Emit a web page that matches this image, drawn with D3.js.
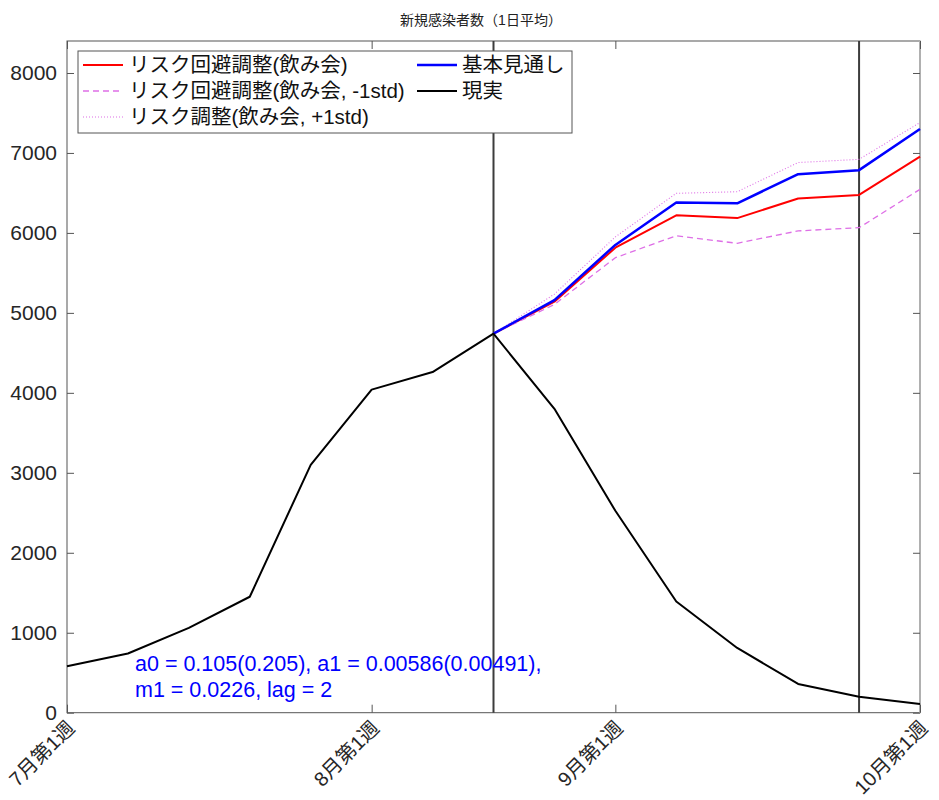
<!DOCTYPE html>
<html>
<head>
<meta charset="utf-8">
<script src="https://cdn.jsdelivr.net/npm/d3@7"></script>
<style>
  body { margin: 0; background: #fff; }
  svg { display: block; font-family: "Liberation Sans", Arial, "Noto Sans CJK JP", sans-serif; }
</style>
</head>
<body>
<svg id="chart" width="939" height="800"></svg>
<script>
// week index 0 = 7月第1週
var weeks = [0, 1, 2, 3, 4, 5, 6, 7, 8, 9, 10, 11, 12, 13, 14];
var actual = [580, 740, 1060, 1450, 3100, 4040, 4260, 4740, 3800, 2525, 1390, 810, 360, 200, 110];

var fcWeeks = [7, 8, 9, 10, 11, 12, 13, 14];
var baseline = [4740, 5160, 5850, 6380, 6370, 6735, 6785, 7300];
var riskAdj = [4740, 5140, 5815, 6220, 6185, 6430, 6475, 6955];
var riskLo = [4740, 5105, 5690, 5965, 5870, 6025, 6065, 6545];
var riskHi = [4740, 5235, 5950, 6495, 6515, 6880, 6920, 7380];

var xTickPos = [0, 5, 9, 14];
var xTickLabels = ["7月第1週", "8月第1週", "9月第1週", "10月第1週"];
var yTicks = [0, 1000, 2000, 3000, 4000, 5000, 6000, 7000, 8000];
var markerWeeks = [7, 13];

var title = "新規感染者数（1日平均）";
var note = ["a0 = 0.105(0.205), a1 = 0.00586(0.00491),", "m1 = 0.0226, lag = 2"];

var plotL = 67, plotR = 920, plotT = 41, plotB = 712.7;

var svg = d3.select("#chart");

var x = d3.scaleLinear().domain([0, 14]).range([plotL, plotR]);
var y = d3.scaleLinear().domain([0, 8400]).range([plotB, plotT]);

// title
svg.append("text")
    .attr("x", 481)
    .attr("y", 25)
    .attr("text-anchor", "middle")
    .style("font-size", "14px")
    .style("fill", "#222")
    .text(title);

// frame
svg.append("rect")
    .attr("x", plotL).attr("y", plotT)
    .attr("width", plotR - plotL).attr("height", plotB - plotT)
    .attr("fill", "none").attr("stroke", "#555").attr("stroke-width", 1);
svg.append("line")
    .attr("x1", plotR).attr("x2", plotR).attr("y1", plotT).attr("y2", plotB)
    .attr("stroke", "#b0b0b0").attr("stroke-width", 2);

// axes (ticks inward)
var yAxis = d3.axisLeft(y).tickValues(yTicks).tickSize(-7).tickPadding(10).tickFormat(d3.format("d"));
var gy = svg.append("g").attr("transform", "translate(" + plotL + ",0)").call(yAxis);
gy.select(".domain").remove();
gy.selectAll("line").attr("stroke", "#555");
gy.selectAll("text").style("font-size", "21px").style("fill", "#262626");

var yAxisR = d3.axisRight(y).tickValues(yTicks).tickSize(-7).tickFormat("");
var gyr = svg.append("g").attr("transform", "translate(" + plotR + ",0)").call(yAxisR);
gyr.select(".domain").remove();
gyr.selectAll("line").attr("stroke", "#555");

var xAxisTop = d3.axisTop(x).tickValues(xTickPos).tickSize(-8).tickFormat("");
var gxt = svg.append("g").attr("transform", "translate(0," + plotT + ")").call(xAxisTop);
gxt.select(".domain").remove();
gxt.selectAll("line").attr("stroke", "#555");

var xAxis = d3.axisBottom(x).tickValues(xTickPos).tickSize(-8).tickFormat("");
var gx = svg.append("g").attr("transform", "translate(0," + plotB + ")").call(xAxis);
gx.select(".domain").remove();
gx.selectAll("line").attr("stroke", "#555");

svg.selectAll(".xlab")
    .data(xTickPos)
    .enter().append("text")
    .attr("class", "xlab")
    .attr("transform", function (d) { return "translate(" + x(d) + "," + (plotB + 8) + ") rotate(-45)"; })
    .attr("text-anchor", "end")
    .attr("dy", "0.62em")
    .style("font-size", "20px")
    .style("fill", "#262626")
    .text(function (d, i) { return xTickLabels[i]; });

// vertical marker lines
svg.selectAll(".vline")
    .data(markerWeeks)
    .enter().append("line")
    .attr("x1", function (d) { return x(d); })
    .attr("x2", function (d) { return x(d); })
    .attr("y1", plotT).attr("y2", plotB)
    .attr("stroke", "#3c3c3c").attr("stroke-width", 2);

var line = d3.line()
    .x(function (d) { return x(d[0]); })
    .y(function (d) { return y(d[1]); });

function pairs(xs, ys) {
    return xs.map(function (w, i) { return [w, ys[i]]; });
}

var series = [
    { name: "リスク回避調整(飲み会)", xs: fcWeeks, ys: riskAdj, color: "#ff0000", width: 2, dash: null },
    { name: "リスク回避調整(飲み会, -1std)", xs: fcWeeks, ys: riskLo, color: "#de6fe6", width: 1.3, dash: "6,4" },
    { name: "リスク調整(飲み会, +1std)", xs: fcWeeks, ys: riskHi, color: "#de6fe6", width: 1.1, dash: "1,2" },
    { name: "基本見通し", xs: fcWeeks, ys: baseline, color: "#0000ff", width: 2.5, dash: null },
    { name: "現実", xs: weeks, ys: actual, color: "#000000", width: 2, dash: null }
];

series.forEach(function (s) {
    svg.append("path")
        .datum(pairs(s.xs, s.ys))
        .attr("d", line)
        .attr("fill", "none")
        .attr("stroke", s.color)
        .attr("stroke-width", s.width)
        .attr("stroke-dasharray", s.dash)
        .attr("stroke-linejoin", "round");
});

// annotation
svg.append("text")
    .attr("x", 135).attr("y", 671)
    .style("font-size", "21.5px").style("fill", "#0000ff")
    .text(note[0]);
svg.append("text")
    .attr("x", 135).attr("y", 697)
    .style("font-size", "21.5px").style("fill", "#0000ff")
    .text(note[1]);

// legend
svg.append("rect")
    .attr("x", 78).attr("y", 51)
    .attr("width", 494).attr("height", 82)
    .attr("fill", "#fff").attr("stroke", "#555").attr("stroke-width", 1);

var legPos = [[83, 65], [83, 91], [83, 117], [417, 65], [417, 91]];
series.forEach(function (s, i) {
    var p = legPos[i];
    svg.append("line")
        .attr("x1", p[0]).attr("x2", p[0] + 40)
        .attr("y1", p[1]).attr("y2", p[1])
        .attr("stroke", s.color)
        .attr("stroke-width", s.width)
        .attr("stroke-dasharray", s.dash);
    svg.append("text")
        .attr("x", p[0] + (i < 3 ? 46 : 45)).attr("y", p[1])
        .attr("dy", "0.36em")
        .style("font-size", "20.5px")
        .style("fill", "#111")
        .text(s.name);
});
</script>
</body>
</html>
